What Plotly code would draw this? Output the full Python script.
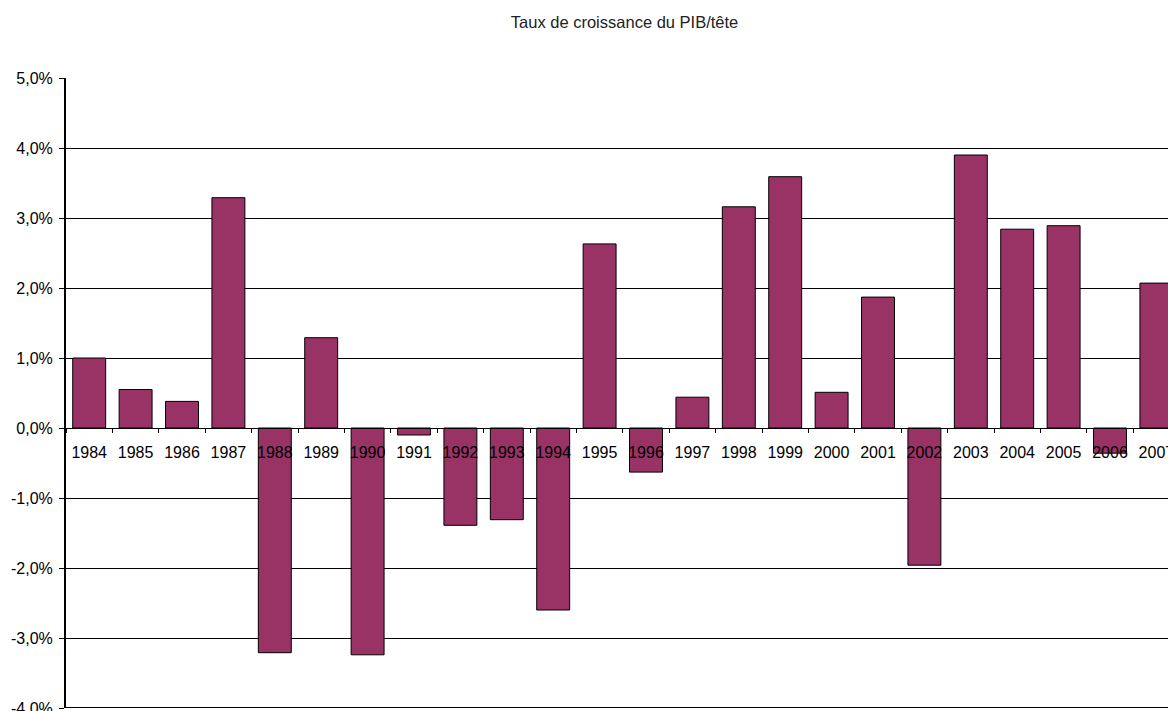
import plotly.graph_objects as go

years = [str(y) for y in range(1984, 2008)]
growth = [1.00, 0.55, 0.38, 3.29, -3.21, 1.29, -3.24, -0.10, -1.39, -1.31, -2.60, 2.63,
          -0.63, 0.44, 3.16, 3.59, 0.51, 1.87, -1.96, 3.90, 2.84, 2.89, -0.36, 2.07]
ytick_vals = [-4, -3, -2, -1, 0, 1, 2, 3, 4, 5]
ytick_text = ["-4,0%", "-3,0%", "-2,0%", "-1,0%", "0,0%", "1,0%", "2,0%", "3,0%", "4,0%", "5,0%"]

fig = go.Figure()
fig.add_trace(go.Bar(x=years, y=growth, marker=dict(color="#993366", line=dict(color="black", width=1)),
                     width=0.71))

fig.update_layout(
    width=1168, height=711,
    margin=dict(l=66, r=0, t=78, b=3, autoexpand=False),
    plot_bgcolor="white", paper_bgcolor="white",
    showlegend=False,
    font=dict(family="Liberation Sans, Arial", size=16, color="black"),
    title=dict(text="Taux de croissance du PIB/tête", x=592/1168, xanchor="center", xref="paper",
               y=1 - 22/711, yanchor="middle", font=dict(size=16.5, color="#222222")),
    xaxis=dict(type="category", range=[-0.5, 23.25], anchor="free", position=4/9,
               showline=True, linecolor="black", linewidth=1, ticks="outside", ticklen=4,
               tickson="boundaries", tickcolor="black", showgrid=False, zeroline=False,
               tickfont=dict(size=16), ticklabelstandoff=10, automargin=False),
    yaxis=dict(range=[-4, 5], tickvals=ytick_vals, ticktext=ytick_text, showline=True,
               linecolor="black", linewidth=2, ticks="outside", ticklen=5, tickcolor="black",
               showgrid=True, gridcolor="black", gridwidth=1, zeroline=False,
               tickfont=dict(size=16), ticklabelstandoff=3, ticklabeloverflow="allow",
               automargin=False),
)
fig.add_hline(y=-4, line=dict(color="black", width=2))
fig.write_html("out.html")
